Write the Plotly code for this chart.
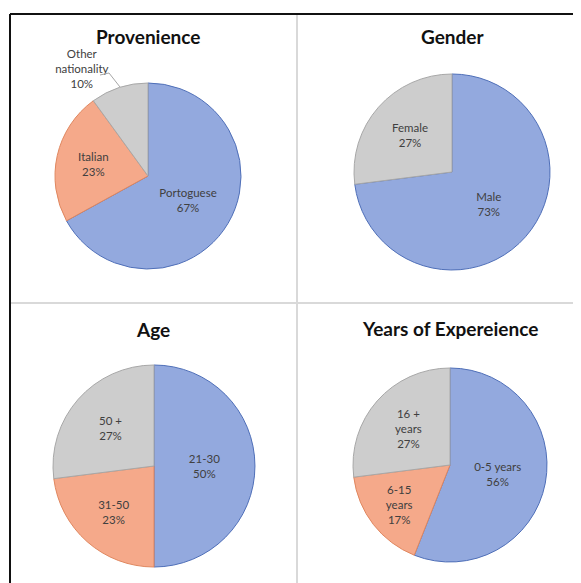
"""Survey participant profile: four pie charts in a 2x2 panel."""

import plotly.graph_objects as go

W, H = 581, 583
OFF = 8  # page body margin shifts the figure by this many px

BLUE = "#93a9de"
ORANGE = "#f5a98a"
GREY = "#cdcdcd"
BLUE_EDGE = "#4f6fb8"
ORANGE_EDGE = "#e0875f"
GREY_EDGE = "#a8a8a8"

# data
prov_labels = ["Portoguese", "Italian", "Other<br>nationality"]
prov_values = [67, 23, 10]

gender_labels = ["Male", "Female"]
gender_values = [73, 27]

age_labels = ["21-30", "31-50", "50 +"]
age_values = [50, 23, 27]

exp_labels = ["0-5 years", "6-15<br>years", "16 +<br>years"]
exp_values = [56, 17, 27]


def px(x):
    return (x - OFF) / W


def py(y):
    return 1 - (y - OFF) / H


def px_dom(cx, cy, r):
    """Screen-pixel centre/radius -> paper domain."""
    return dict(x=[px(cx - r), px(cx + r)], y=[py(cy + r), py(cy - r)])


def add_pie(fig, labels, values, colors, edges, dom, positions=None):
    fig.add_trace(
        go.Pie(
            labels=labels,
            values=values,
            sort=False,
            direction="clockwise",
            rotation=0,
            domain=dom,
            marker=dict(colors=colors, line=dict(color=edges, width=1)),
            texttemplate="%{label}<br>%{percent:.0%}",
            textposition=positions or "inside",
            insidetextorientation="horizontal",
            textfont=dict(family="Lato", size=11.5, color="#404040"),
            hoverinfo="label+percent",
            showlegend=False,
        )
    )


fig = go.Figure()
add_pie(fig, prov_labels, prov_values, [BLUE, ORANGE, GREY],
        [BLUE_EDGE, ORANGE_EDGE, GREY_EDGE], px_dom(148, 176, 93),
        ["inside", "inside", "outside"])
add_pie(fig, gender_labels, gender_values, [BLUE, GREY],
        [BLUE_EDGE, GREY_EDGE], px_dom(452, 172, 98))
add_pie(fig, age_labels, age_values, [BLUE, ORANGE, GREY],
        [BLUE_EDGE, ORANGE_EDGE, GREY_EDGE], px_dom(154, 466, 101))
add_pie(fig, exp_labels, exp_values, [BLUE, ORANGE, GREY],
        [BLUE_EDGE, ORANGE_EDGE, GREY_EDGE], px_dom(450, 465, 97))

titles = [
    ("Provenience", 148, 37),
    ("Gender", 452, 37),
    ("Age", 153, 329),
    ("Years of Expereience", 450, 328),
]
for txt, x, y in titles:
    fig.add_annotation(
        x=px(x), y=py(y), xref="paper", yref="paper",
        xanchor="center", yanchor="middle",
        text=f"<b>{txt}</b>", showarrow=False,
        font=dict(family="Lato", size=19, color="#111111"),
    )

# panel grid + outer frame
grid = dict(color="#d9d9d9", width=2)
frame = dict(color="#111111", width=2)
shapes = [
    dict(type="line", x0=px(297), x1=px(297), y0=py(600), y1=py(14), line=grid),
    dict(type="line", x0=px(10), x1=px(600), y0=py(303), y1=py(303), line=grid),
    dict(type="line", x0=px(10), x1=px(10), y0=py(600), y1=py(14), line=frame),
    dict(type="line", x0=px(10), x1=px(600), y0=py(14), y1=py(14), line=frame),
    # leader line for the small "Other" slice
    dict(type="path", line=dict(color="#a6a6a6", width=1),
         path=f"M {px(100)} {py(75)} L {px(109)} {py(73)} L {px(120)} {py(87)}",
         xref="paper", yref="paper"),
]

fig.update_layout(
    width=W,
    height=H,
    margin=dict(l=0, r=0, t=0, b=0),
    paper_bgcolor="white",
    shapes=shapes,
)

fig.write_html("out.html")
